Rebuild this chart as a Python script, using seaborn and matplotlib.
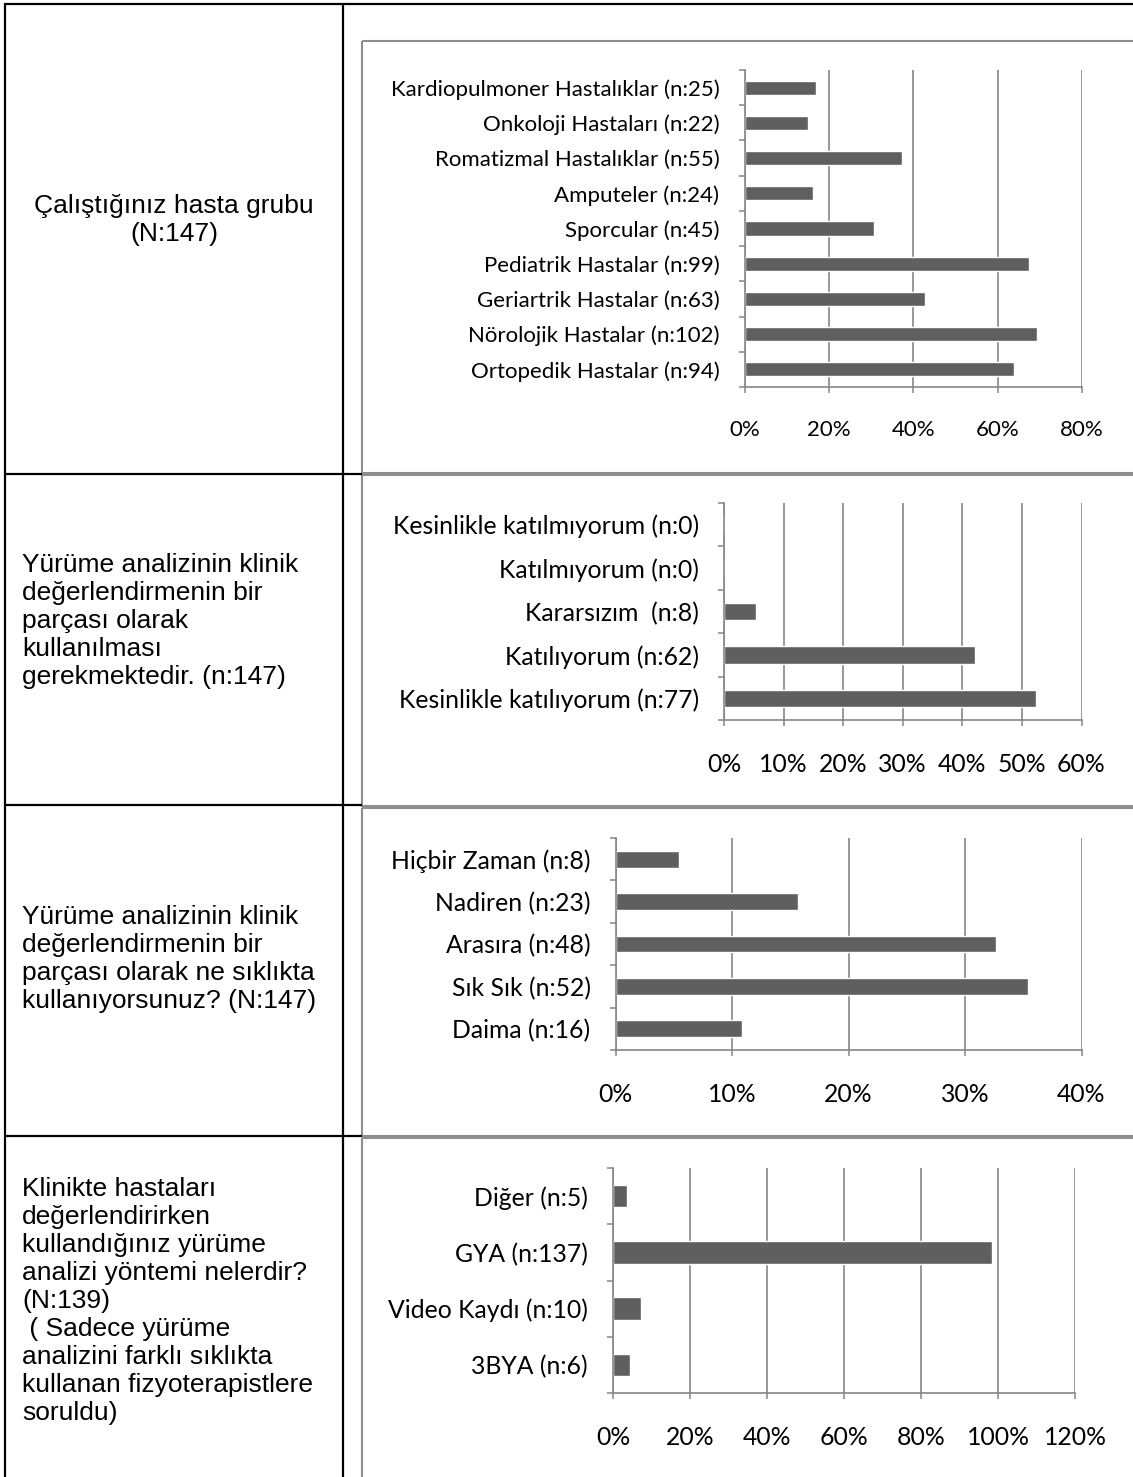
import numpy as np
import pandas as pd
import matplotlib
matplotlib.use("Agg")
import matplotlib.pyplot as plt
import seaborn as sns
from matplotlib.ticker import PercentFormatter, FixedLocator
from matplotlib.patches import Rectangle

# ---------------------------------------------------------------- data
group_labels = [
    "Kardiopulmoner Hastalıklar (n:25)",
    "Onkoloji Hastaları (n:22)",
    "Romatizmal Hastalıklar (n:55)",
    "Amputeler (n:24)",
    "Sporcular (n:45)",
    "Pediatrik Hastalar (n:99)",
    "Geriartrik Hastalar (n:63)",
    "Nörolojik Hastalar (n:102)",
    "Ortopedik Hastalar (n:94)",
]
group_n = [25, 22, 55, 24, 45, 99, 63, 102, 94]
group_total = 147

agree_labels = [
    "Kesinlikle katılmıyorum (n:0)",
    "Katılmıyorum (n:0)",
    "Kararsızım  (n:8)",
    "Katılıyorum (n:62)",
    "Kesinlikle katılıyorum (n:77)",
]
agree_n = [0, 0, 8, 62, 77]
agree_total = 147

freq_labels = [
    "Hiçbir Zaman (n:8)",
    "Nadiren (n:23)",
    "Arasıra (n:48)",
    "Sık Sık (n:52)",
    "Daima (n:16)",
]
freq_n = [8, 23, 48, 52, 16]
freq_total = 147

method_labels = [
    "Diğer (n:5)",
    "GYA (n:137)",
    "Video Kaydı (n:10)",
    "3BYA (n:6)",
]
method_n = [5, 137, 10, 6]
method_total = 139

question_1 = ["Çalıştığınız hasta grubu", "(N:147)"]
question_2 = [
    "Yürüme analizinin klinik",
    "değerlendirmenin bir",
    "parçası olarak",
    "kullanılması",
    "gerekmektedir. (n:147)",
]
question_3 = [
    "Yürüme analizinin klinik",
    "değerlendirmenin bir",
    "parçası olarak ne sıklıkta",
    "kullanıyorsunuz? (N:147)",
]
question_4 = [
    "Klinikte hastaları",
    "değerlendirirken",
    "kullandığınız yürüme",
    "analizi yöntemi nelerdir?",
    "(N:139)",
    " ( Sadece yürüme",
    "analizini farklı sıklıkta",
    "kullanan fizyoterapistlere",
    "soruldu)",
]

# ---------------------------------------------------------------- style
sns.set_theme(style="white")
plt.rcParams["font.family"] = ["Lato", "DejaVu Sans"]

W, H = 1133, 1477
BAR = "#5f5f5f"
GRID = "#868686"
FRAME = "#8e8e8e"
TABLE_FONT = ["Liberation Sans", "DejaVu Sans"]
TABLE_FS = 19.0

fig = plt.figure(figsize=(W / 100, H / 100), dpi=100)
fig.patch.set_facecolor("white")

# full-page layer in pixel units for the table grid, frames and question texts
page = fig.add_axes([0, 0, 1, 1], zorder=0)
page.set_xlim(0, W)
page.set_ylim(H, 0)
page.axis("off")

# table grid
LW_TABLE = 1.6
page.plot([4, W], [4, 4], color="black", lw=LW_TABLE, solid_capstyle="butt")
page.plot([4.5, 4.5], [4, H], color="black", lw=LW_TABLE, solid_capstyle="butt")
page.plot([343, 343], [4, H], color="black", lw=LW_TABLE, solid_capstyle="butt")
for yy in (474, 805, 1136):
    page.plot([4, 362], [yy, yy], color="black", lw=LW_TABLE, solid_capstyle="butt")

# chart frames
for top, bottom in ((41, 473), (475, 806), (808, 1136), (1138, H + 20)):
    page.add_patch(Rectangle((362, top), 900, bottom - top, fill=False,
                             edgecolor=FRAME, lw=1.5))

# question texts (baseline of each line)
LINE = 28
for i, s in enumerate(question_1):
    page.text(174, 213 + LINE * i, s, ha="center", va="baseline",
              fontsize=TABLE_FS, family=TABLE_FONT, color="black")
for lines, first in ((question_2, 572), (question_3, 924), (question_4, 1196)):
    for i, s in enumerate(lines):
        page.text(22, first + LINE * i, s, ha="left", va="baseline",
                  fontsize=TABLE_FS, family=TABLE_FONT, color="black")


def bar_panel(labels, counts, total, left, right, top, bottom, xmax, step, fs):
    ax = fig.add_axes([left / W, 1 - bottom / H, (right - left) / W, (bottom - top) / H],
                      zorder=1)
    ax.patch.set_alpha(0)
    df = pd.DataFrame({"label": labels, "share": np.array(counts) / total})
    sns.barplot(data=df, x="share", y="label", orient="h", color=BAR,
                saturation=1, width=0.4, ax=ax, errorbar=None)
    n = len(labels)
    ax.set_xlim(0, xmax)
    ax.set_ylim(n - 0.5, -0.5)
    ax.set_xticks(np.arange(0, xmax + 1e-9, step))
    ax.xaxis.set_major_formatter(PercentFormatter(xmax=1, decimals=0))
    ax.yaxis.set_minor_locator(FixedLocator(np.arange(-0.5, n, 1.0)))
    ax.set_xlabel("")
    ax.set_ylabel("")
    ax.grid(axis="x", color=GRID, lw=1.2)
    ax.set_axisbelow(True)
    for side in ("top", "right"):
        ax.spines[side].set_visible(False)
    for side in ("left", "bottom"):
        ax.spines[side].set_color(GRID)
        ax.spines[side].set_linewidth(1.2)
    ax.tick_params(axis="y", which="major", length=0, pad=18,
                   labelsize=fs, labelcolor="black")
    ax.tick_params(axis="y", which="minor", length=4, width=1.1, color=GRID, left=True)
    ax.tick_params(axis="x", which="major", length=4, width=1.1, color=GRID,
                   pad=20, labelsize=fs, labelcolor="black", bottom=True)
    return ax


bar_panel(group_labels, group_n, group_total, 744.5, 1082, 70, 387, 0.8, 0.2, 16.0)
bar_panel(agree_labels, agree_n, agree_total, 724, 1081.5, 503, 720, 0.6, 0.1, 17.8)
bar_panel(freq_labels, freq_n, freq_total, 615.6, 1081.5, 838, 1050, 0.4, 0.1, 17.8)
bar_panel(method_labels, method_n, method_total, 613, 1075, 1168, 1393, 1.2, 0.2, 17.8)

fig.savefig("out.png", dpi=100, facecolor="white")
